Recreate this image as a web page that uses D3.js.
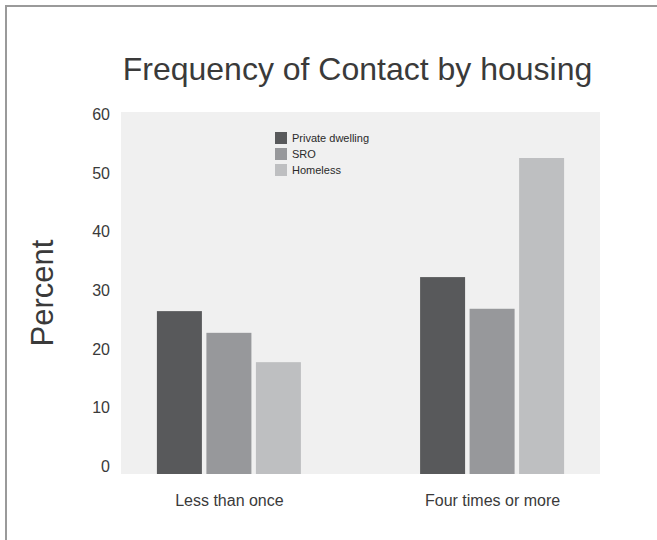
<!DOCTYPE html>
<html>
<head>
<meta charset="utf-8">
<script src="https://cdn.jsdelivr.net/npm/d3@7"></script>
<style>
  html, body { margin: 0; padding: 0; background: #fff; }
  svg { display: block; font-family: "Liberation Sans", Arial, Helvetica, sans-serif; }
</style>
</head>
<body>
<svg id="chart" width="657" height="540"></svg>
<script>
// Frequency of contact, percent of respondents, by housing situation
const categories = ["Less than once", "Four times or more"];
const seriesNames = ["Private dwelling", "SRO", "Homeless"];
const privateDwelling = [26.4, 32.2];
const sro = [22.7, 26.8];
const homeless = [17.7, 52.5];
const yTicks = [0, 10, 20, 30, 40, 50, 60];
const seriesColors = ["#58595b", "#97989b", "#bebfc1"];

const seriesValues = [privateDwelling, sro, homeless];
const rows = categories.map((c, i) => ({
  category: c,
  values: seriesNames.map((s, j) => ({ series: s, value: seriesValues[j][i] }))
}));

const svg = d3.select("#chart");

// outer frame
svg.append("rect")
  .attr("x", 6).attr("y", 6)
  .attr("width", 720).attr("height", 620)
  .attr("fill", "none")
  .attr("stroke", "#9a9a9a")
  .attr("stroke-width", 2);

const plot = { left: 121, right: 600, top: 112, bottom: 474 };

// plot background
svg.append("rect")
  .attr("x", plot.left).attr("y", plot.top)
  .attr("width", plot.right - plot.left)
  .attr("height", plot.bottom - plot.top)
  .attr("fill", "#f0f0f0");

// value scale (tick labels centred on their values)
const y = d3.scaleLinear().domain([0, 60]).range([466, 114]);

const x0 = d3.scalePoint().domain(categories)
  .range([plot.left, plot.right]).padding(0.41);
const x1 = d3.scaleBand().domain(seriesNames)
  .range([-72, 72]).paddingInner(0.091);
const color = d3.scaleOrdinal().domain(seriesNames).range(seriesColors);

// bars
const groups = svg.append("g").selectAll("g")
  .data(rows).join("g")
  .attr("transform", d => `translate(${x0(d.category)},0)`);

groups.selectAll("rect")
  .data(d => d.values).join("rect")
  .attr("x", d => x1(d.series))
  .attr("width", x1.bandwidth())
  .attr("y", d => y(d.value))
  .attr("height", d => plot.bottom - y(d.value))
  .attr("fill", d => color(d.series));

// y axis labels
const yAxis = d3.axisLeft(y).tickValues(yTicks).tickSize(0).tickPadding(0);
const yg = svg.append("g").attr("transform", "translate(110,0)").call(yAxis);
yg.select(".domain").remove();
yg.selectAll("text")
  .attr("font-size", 16)
  .attr("font-family", "Liberation Sans, Arial, sans-serif")
  .attr("fill", "#3a3a3a")
  .attr("dy", "0.35em");

// x axis labels
const xAxis = d3.axisBottom(x0).tickSize(0).tickPadding(0);
const xg = svg.append("g").attr("transform", `translate(0,${plot.bottom})`).call(xAxis);
xg.select(".domain").remove();
xg.selectAll("text")
  .attr("font-size", 16)
  .attr("font-family", "Liberation Sans, Arial, sans-serif")
  .attr("fill", "#3a3a3a")
  .attr("y", 32)
  .attr("dy", 0);

// title
svg.append("text")
  .attr("x", (plot.left + plot.right) / 2 - 3)
  .attr("y", 80)
  .attr("text-anchor", "middle")
  .attr("font-size", 32)
  .attr("fill", "#3a3a3a")
  .text("Frequency of Contact by housing");

// y axis title
svg.append("text")
  .attr("transform", `translate(53,${(plot.top + plot.bottom) / 2}) rotate(-90)`)
  .attr("text-anchor", "middle")
  .attr("font-size", 31)
  .attr("fill", "#3a3a3a")
  .text("Percent");

// legend
const legend = svg.append("g").attr("transform", "translate(275,132)");
const items = legend.selectAll("g")
  .data(seriesNames).join("g")
  .attr("transform", (d, i) => `translate(0,${i * 16})`);
items.append("rect")
  .attr("width", 12).attr("height", 12)
  .attr("fill", d => color(d));
items.append("text")
  .attr("x", 17).attr("y", 10)
  .attr("font-size", 11)
  .attr("fill", "#2a2a2a")
  .text(d => d);
</script>
</body>
</html>
